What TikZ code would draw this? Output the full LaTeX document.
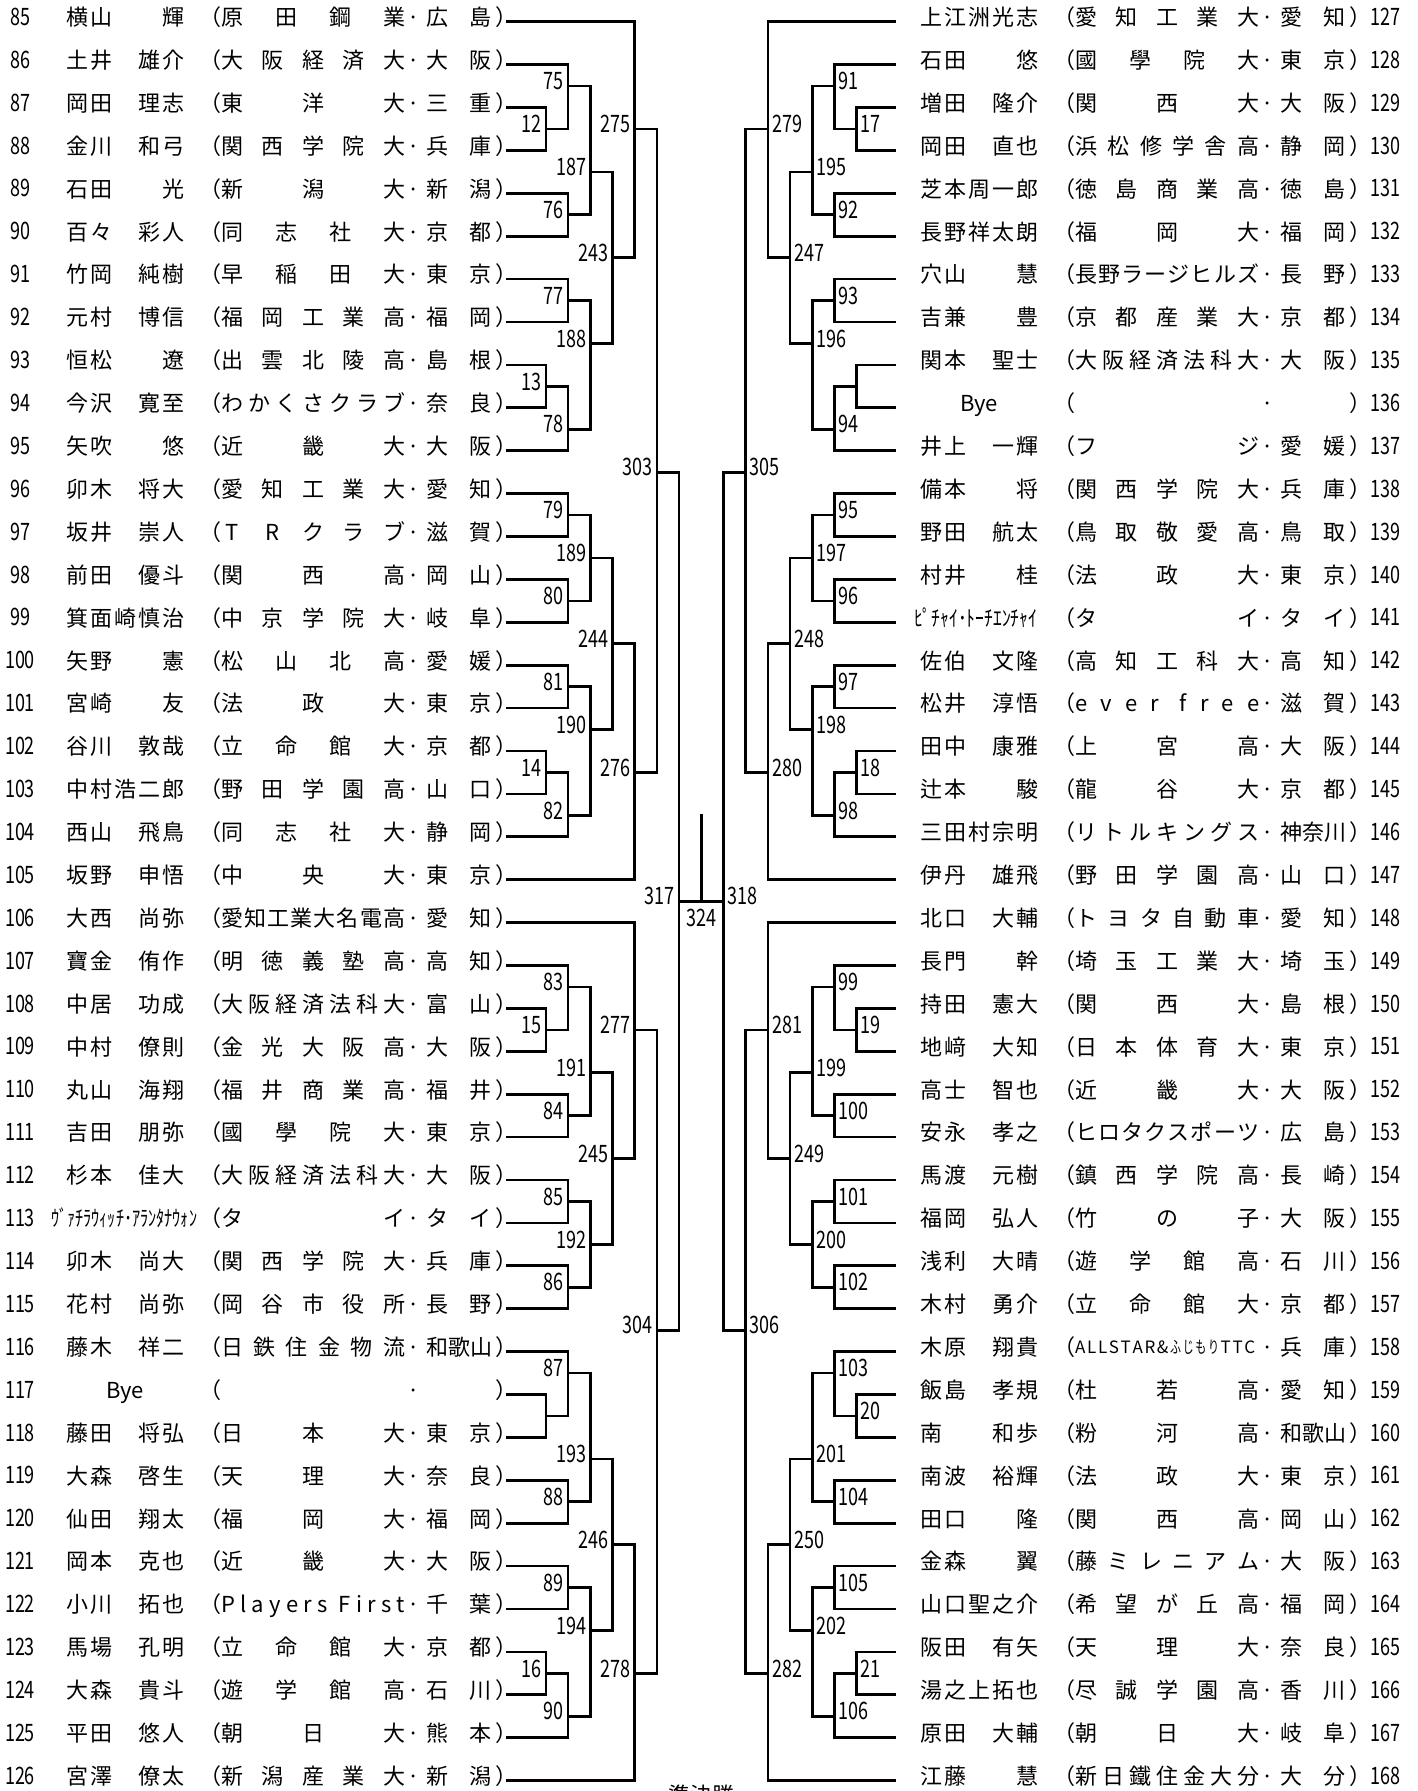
\documentclass[tikz,border=0pt]{standalone}
\usepackage{fontspec}
\usepackage{graphicx}
\setmainfont{Noto Sans CJK JP}
\makeatletter
\def\spr#1{\spr@a#1\@nil}
\def\spr@a#1#2\@nil{#1\ifx\relax#2\relax\else\hfill\spr@a#2\@nil\fi}
\makeatother
\newcommand\Z{\hbox to 1em{}}
\newcommand\CC[1]{\hbox to 1em{\hss#1\hss}}
\newcommand\sq[1]{\resizebox{11pt}{\height}{#1}}
\tikzset{
  num/.style={font=\fontsize{24}{24}\selectfont, inner sep=0pt, xscale=0.75, text height=0.73em, text depth=0pt},
  txt/.style={font=\fontsize{22}{22}\selectfont, inner sep=0pt, text height=0.88em, text depth=0.12em},
  br/.style={line width=2.7pt, line cap=rect, black},
}
% #1 x offset, #2 number x, #3 row, #4 number, #5 name, #6 club, #7 prefecture
\newcommand\entry[7]{%
  \node[num] (n#4) at (#2,#3) {#4};
  \node[txt,anchor=west] (nm#4) at (#1+66,#3) {\hbox to 118pt{#5}};
  \node[txt,anchor=west] (lp#4) at (#1+199,#3) {（};
  \node[txt,anchor=west] (og#4) at (#1+221,#3) {\hbox to 184pt{#6}};
  \node[txt] (dt#4) at (#1+413.5,#3) {·};
  \node[txt,anchor=west] (pf#4) at (#1+426.5,#3) {\hbox to 65pt{#7}};
  \node[txt,anchor=west] (rp#4) at (#1+495,#3) {）};
}
\newcommand\Lrow[5]{\entry{0}{20}{#1}{#2}{\spr{#3}}{\spr{#4}}{\spr{#5}}}
\newcommand\Rrow[5]{\entry{854}{1385}{#1}{#2}{\spr{#3}}{\spr{#4}}{\spr{#5}}}
\def\cx{701.3}
\def\dx{22.2}
\begin{document}
\begin{tikzpicture}[x=1pt,y=-42.9pt]
\fill[white] (0,-0.50583) rectangle (1417,41.24242);
\useasboundingbox (0,-0.50583) rectangle (1417,41.24242);

% ---------- left entries ----------
\Lrow{0}{85}{横山\Z\Z 輝}{原田鋼業}{広島}
\Lrow{1}{86}{土井\Z 雄介}{大阪経済大}{大阪}
\Lrow{2}{87}{岡田\Z 理志}{東洋大}{三重}
\Lrow{3}{88}{金川\Z 和弓}{関西学院大}{兵庫}
\Lrow{4}{89}{石田\Z\Z 光}{新潟大}{新潟}
\Lrow{5}{90}{百々\Z 彩人}{同志社大}{京都}
\Lrow{6}{91}{竹岡\Z 純樹}{早稲田大}{東京}
\Lrow{7}{92}{元村\Z 博信}{福岡工業高}{福岡}
\Lrow{8}{93}{恒松\Z\Z 遼}{出雲北陵高}{島根}
\Lrow{9}{94}{今沢\Z 寛至}{わかくさクラブ}{奈良}
\Lrow{10}{95}{矢吹\Z\Z 悠}{近畿大}{大阪}
\Lrow{11}{96}{卯木\Z 将大}{愛知工業大}{愛知}
\entry{0}{20}{12}{97}{\spr{坂井\Z 崇人}}{\spr{{\CC{T}}{\CC{R}}クラブ}}{\spr{滋賀}}
\Lrow{13}{98}{前田\Z 優斗}{関西高}{岡山}
\Lrow{14}{99}{箕面崎慎治}{中京学院大}{岐阜}
\Lrow{15}{100}{矢野\Z\Z 憲}{松山北高}{愛媛}
\Lrow{16}{101}{宮崎\Z\Z 友}{法政大}{東京}
\Lrow{17}{102}{谷川\Z 敦哉}{立命館大}{京都}
\Lrow{18}{103}{中村浩二郎}{野田学園高}{山口}
\Lrow{19}{104}{西山\Z 飛鳥}{同志社大}{静岡}
\Lrow{20}{105}{坂野\Z 申悟}{中央大}{東京}
\Lrow{21}{106}{大西\Z 尚弥}{愛知工業大名電高}{愛知}
\Lrow{22}{107}{寶金\Z 侑作}{明徳義塾高}{高知}
\Lrow{23}{108}{中居\Z 功成}{大阪経済法科大}{富山}
\Lrow{24}{109}{中村\Z 僚則}{金光大阪高}{大阪}
\Lrow{25}{110}{丸山\Z 海翔}{福井商業高}{福井}
\Lrow{26}{111}{吉田\Z 朋弥}{國學院大}{東京}
\Lrow{27}{112}{杉本\Z 佳大}{大阪経済法科大}{大阪}
\entry{0}{20}{28}{113}{\hskip-15pt\resizebox{146pt}{\height}{ｳﾞｧﾁﾗｳｨｯﾁ･ｱﾗﾝﾀﾅｳｫﾝ}\hss}{\spr{タイ}}{\spr{タイ}}
\Lrow{29}{114}{卯木\Z 尚大}{関西学院大}{兵庫}
\Lrow{30}{115}{花村\Z 尚弥}{岡谷市役所}{長野}
\Lrow{31}{116}{藤木\Z 祥二}{日鉄住金物流}{和歌山}
\entry{0}{20}{32}{117}{\hfil Bye\hfil}{}{}
\Lrow{33}{118}{藤田\Z 将弘}{日本大}{東京}
\Lrow{34}{119}{大森\Z 啓生}{天理大}{奈良}
\Lrow{35}{120}{仙田\Z 翔太}{福岡大}{福岡}
\Lrow{36}{121}{岡本\Z 克也}{近畿大}{大阪}
\entry{0}{20}{37}{122}{\spr{小川\Z 拓也}}{P\hfill l\hfill a\hfill y\hfill e\hfill r\hfill s\hfill\hskip6pt F\hfill i\hfill r\hfill s\hfill t}{\spr{千葉}}
\Lrow{38}{123}{馬場\Z 孔明}{立命館大}{京都}
\Lrow{39}{124}{大森\Z 貴斗}{遊学館高}{石川}
\Lrow{40}{125}{平田\Z 悠人}{朝日大}{熊本}
\Lrow{41}{126}{宮澤\Z 僚太}{新潟産業大}{新潟}

% ---------- right entries ----------
\Rrow{0}{127}{上江洲光志}{愛知工業大}{愛知}
\Rrow{1}{128}{石田\Z\Z 悠}{國學院大}{東京}
\Rrow{2}{129}{増田\Z 隆介}{関西大}{大阪}
\Rrow{3}{130}{岡田\Z 直也}{浜松修学舎高}{静岡}
\Rrow{4}{131}{芝本周一郎}{徳島商業高}{徳島}
\Rrow{5}{132}{長野祥太朗}{福岡大}{福岡}
\Rrow{6}{133}{穴山\Z\Z 慧}{長野ラージヒルズ}{長野}
\Rrow{7}{134}{吉兼\Z\Z 豊}{京都産業大}{京都}
\Rrow{8}{135}{関本\Z 聖士}{大阪経済法科大}{大阪}
\entry{854}{1385}{9}{136}{\hfil Bye\hfil}{}{}
\Rrow{10}{137}{井上\Z 一輝}{フジ}{愛媛}
\Rrow{11}{138}{備本\Z\Z 将}{関西学院大}{兵庫}
\Rrow{12}{139}{野田\Z 航太}{鳥取敬愛高}{鳥取}
\Rrow{13}{140}{村井\Z\Z 桂}{法政大}{東京}
\entry{854}{1385}{14}{141}{\hskip-6pt\resizebox{123pt}{\height}{ﾋﾟﾁｬｲ･ﾄｰﾁｴﾝﾁｬｲ}\hss}{\spr{タイ}}{\spr{タイ}}
\Rrow{15}{142}{佐伯\Z 文隆}{高知工科大}{高知}
\entry{854}{1385}{16}{143}{\spr{松井\Z 淳悟}}{e\hfill v\hfill e\hfill r\hfill\hskip8pt f\hfill r\hfill e\hfill e}{\spr{滋賀}}
\Rrow{17}{144}{田中\Z 康雅}{上宮高}{大阪}
\Rrow{18}{145}{辻本\Z\Z 駿}{龍谷大}{京都}
\Rrow{19}{146}{三田村宗明}{リトルキングス}{神奈川}
\Rrow{20}{147}{伊丹\Z 雄飛}{野田学園高}{山口}
\Rrow{21}{148}{北口\Z 大輔}{トヨタ自動車}{愛知}
\Rrow{22}{149}{長門\Z\Z 幹}{埼玉工業大}{埼玉}
\Rrow{23}{150}{持田\Z 憲大}{関西大}{島根}
\Rrow{24}{151}{地﨑\Z 大知}{日本体育大}{東京}
\Rrow{25}{152}{高士\Z 智也}{近畿大}{大阪}
\Rrow{26}{153}{安永\Z 孝之}{ヒロタクスポーツ}{広島}
\Rrow{27}{154}{馬渡\Z 元樹}{鎮西学院高}{長崎}
\Rrow{28}{155}{福岡\Z 弘人}{竹の子}{大阪}
\Rrow{29}{156}{浅利\Z 大晴}{遊学館高}{石川}
\Rrow{30}{157}{木村\Z 勇介}{立命館大}{京都}
\entry{854}{1385}{31}{158}{\spr{木原\Z 翔貴}}{\raisebox{2pt}{\hbox to 180pt{\fontsize{17}{17}\selectfont\spr{ALLSTAR\&{\sq{ふ}}{\sq{じ}}{\sq{も}}{\sq{り}}TTC}}}\hss}{\spr{兵庫}}
\Rrow{32}{159}{飯島\Z 孝規}{杜若高}{愛知}
\Rrow{33}{160}{南\Z\Z 和歩}{粉河高}{和歌山}
\Rrow{34}{161}{南波\Z 裕輝}{法政大}{東京}
\Rrow{35}{162}{田口\Z\Z 隆}{関西高}{岡山}
\Rrow{36}{163}{金森\Z\Z 翼}{藤ミレニアム}{大阪}
\Rrow{37}{164}{山口聖之介}{希望が丘高}{福岡}
\Rrow{38}{165}{阪田\Z 有矢}{天理大}{奈良}
\Rrow{39}{166}{湯之上拓也}{尽誠学園高}{香川}
\Rrow{40}{167}{原田\Z 大輔}{朝日大}{岐阜}
\Rrow{41}{168}{江藤\Z\Z 慧}{新日鐵住金大分}{大分}

% ---------- bracket lines (both halves share the same shape) ----------
\foreach \s in {-1,1}{
  \foreach \i/\k in {0/3,1/6,2/7,3/7,4/6,5/6,6/6,7/6,8/7,9/7,10/6,11/6,12/6,13/6,14/6,15/6,16/6,17/7,18/7,19/6,20/3,21/3,22/6,23/7,24/7,25/6,26/6,27/6,28/6,29/6,30/6,31/6,32/7,33/7,34/6,35/6,36/6,37/6,38/7,39/7,40/6,41/3}
    \draw[br] ({\cx+(\s)*193.5},\i) -- ({\cx+(\s)*\k*\dx},\i);
  \foreach \k/\a/\b/\j in {7/2/3/2.5,7/8/9/8.5,7/17/18/17.5,7/23/24/23.5,7/32/33/32.5,7/38/39/38.5,
      6/1/2.5/1.5,6/4/5/4.5,6/6/7/6.5,6/8.5/10/9.5,6/11/12/11.5,6/13/14/13.5,6/15/16/15.5,6/17.5/19/18.5,
      6/22/23.5/22.5,6/25/26/25.5,6/27/28/27.5,6/29/30/29.5,6/31/32.5/31.5,6/34/35/34.5,6/36/37/36.5,6/38.5/40/39.5,
      5/1.5/4.5/3.5,5/6.5/9.5/7.5,5/11.5/13.5/12.5,5/15.5/18.5/16.5,5/22.5/25.5/24.5,5/27.5/29.5/28.5,5/31.5/34.5/33.5,5/36.5/39.5/37.5,
      4/3.5/7.5/5.5,4/12.5/16.5/14.5,4/24.5/28.5/26.5,4/33.5/37.5/35.5,
      3/0/5.5/2.5,3/14.5/20/17.5,3/21/26.5/23.5,3/35.5/41/38.5,
      2/2.5/17.5/10.5,2/23.5/38.5/30.5,
      1/10.5/30.5/20.5}
    \draw[br] ({\cx+(\s)*\k*\dx},\a) -- ({\cx+(\s)*\k*\dx},\b)
              ({\cx+(\s)*\k*\dx},\j) -- ({\cx+(\s)*(\k-1)*\dx},\j);
}
\draw[br] (\cx,18.5) -- (\cx,20.5);

% ---------- match numbers ----------
\foreach \k/\j/\t in {7/2.5/12,7/8.5/13,7/17.5/14,7/23.5/15,7/38.5/16,
    6/1.5/75,6/4.5/76,6/6.5/77,6/9.5/78,6/11.5/79,6/13.5/80,6/15.5/81,6/18.5/82,
    6/22.5/83,6/25.5/84,6/27.5/85,6/29.5/86,6/31.5/87,6/34.5/88,6/36.5/89,6/39.5/90,
    5/3.5/187,5/7.5/188,5/12.5/189,5/16.5/190,5/24.5/191,5/28.5/192,5/33.5/193,5/37.5/194,
    4/5.5/243,4/14.5/244,4/26.5/245,4/35.5/246,
    3/2.5/275,3/17.5/276,3/23.5/277,3/38.5/278,
    2/10.5/303,2/30.5/304,1/20.5/317}
  \node[num,anchor=east] (m\t) at ({\cx-\k*\dx-4},\j) {\t};
\foreach \k/\j/\t in {7/2.5/17,7/17.5/18,7/23.5/19,7/32.5/20,7/38.5/21,
    6/1.5/91,6/4.5/92,6/6.5/93,6/9.5/94,6/11.5/95,6/13.5/96,6/15.5/97,6/18.5/98,
    6/22.5/99,6/25.5/100,6/27.5/101,6/29.5/102,6/31.5/103,6/34.5/104,6/36.5/105,6/39.5/106,
    5/3.5/195,5/7.5/196,5/12.5/197,5/16.5/198,5/24.5/199,5/28.5/200,5/33.5/201,5/37.5/202,
    4/5.5/247,4/14.5/248,4/26.5/249,4/35.5/250,
    3/2.5/279,3/17.5/280,3/23.5/281,3/38.5/282,
    2/10.5/305,2/30.5/306,1/20.5/318}
  \node[num,anchor=west] (m\t) at ({\cx+\k*\dx+4},\j) {\t};
\node[num] (m324) at (\cx,21) {324};
\node[txt,anchor=base] (semi) at (\cx,41.522) {準決勝};
\end{tikzpicture}
\end{document}
